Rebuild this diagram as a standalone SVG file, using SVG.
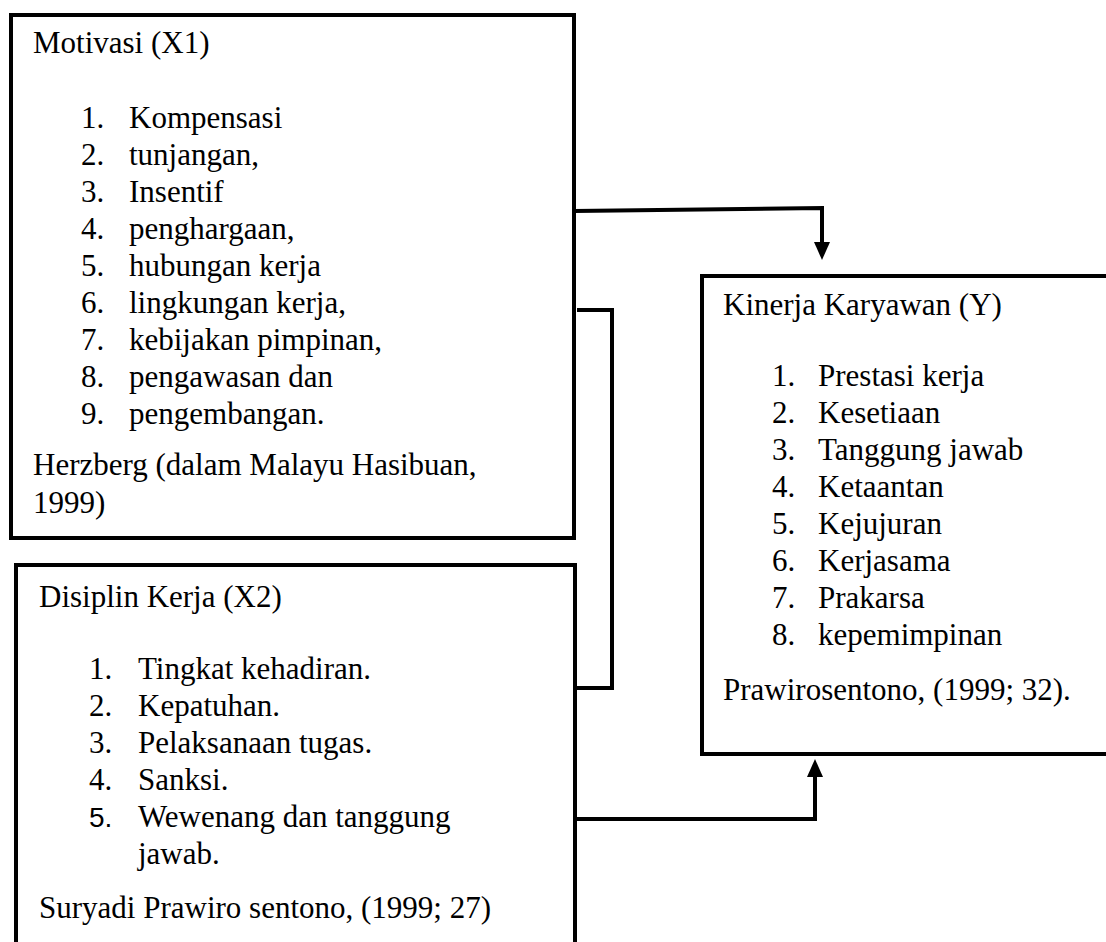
<svg xmlns="http://www.w3.org/2000/svg" width="1106" height="942" viewBox="0 0 1106 942">
<defs>
<style>
.box{fill:#fff;stroke:#000;stroke-width:4}
.t{font-family:"Liberation Serif","Times New Roman",serif;font-size:31px;fill:#000}
.s{font-family:"Liberation Sans",Arial,sans-serif;font-size:28px;fill:#000}
.c{fill:none;stroke:#000;stroke-width:4}
</style>
<marker id="ah" viewBox="0 0 18 16" markerWidth="18" markerHeight="16" refX="10" refY="8" orient="auto" markerUnits="userSpaceOnUse">
<path d="M0,0 L18,8 L0,16 Z" fill="#000"/>
</marker>
</defs>
<rect width="1106" height="942" fill="#fff"/>
<g id="motivasi">
<rect class="box" x="11" y="15" width="563" height="523"/>
<text class="t" x="33" y="53">Motivasi (X1)</text>
<text class="t" x="81" y="128">1.</text><text class="t" x="129" y="128">Kompensasi</text>
<text class="t" x="81" y="165">2.</text><text class="t" x="129" y="165">tunjangan,</text>
<text class="t" x="81" y="202">3.</text><text class="t" x="129" y="202">Insentif</text>
<text class="t" x="81" y="239">4.</text><text class="t" x="129" y="239">penghargaan,</text>
<text class="t" x="81" y="276">5.</text><text class="t" x="129" y="276">hubungan kerja</text>
<text class="t" x="81" y="313">6.</text><text class="t" x="129" y="313">lingkungan kerja,</text>
<text class="t" x="81" y="350">7.</text><text class="t" x="129" y="350">kebijakan pimpinan,</text>
<text class="t" x="81" y="387">8.</text><text class="t" x="129" y="387">pengawasan dan</text>
<text class="t" x="81" y="424">9.</text><text class="t" x="129" y="424">pengembangan.</text>
<text class="t" x="33" y="475">Herzberg (dalam Malayu Hasibuan,</text>
<text class="t" x="33" y="513">1999)</text>
</g>
<g id="disiplin">
<rect class="box" x="16" y="565" width="559" height="400"/>
<text class="t" x="39" y="607">Disiplin Kerja (X2)</text>
<text class="t" x="89" y="679">1.</text><text class="t" x="138" y="679">Tingkat kehadiran.</text>
<text class="t" x="89" y="716">2.</text><text class="t" x="138" y="716">Kepatuhan.</text>
<text class="t" x="89" y="753">3.</text><text class="t" x="138" y="753">Pelaksanaan tugas.</text>
<text class="t" x="89" y="790">4.</text><text class="t" x="138" y="790">Sanksi.</text>
<text class="s" x="89" y="827">5.</text><text class="t" x="138" y="827">Wewenang dan tanggung</text>
<text class="t" x="138" y="864">jawab.</text>
<text class="t" x="39" y="918">Suryadi Prawiro sentono, (1999; 27)</text>
</g>
<g id="kinerja">
<rect class="box" x="702" y="276" width="420" height="478"/>
<text class="t" x="723" y="315">Kinerja Karyawan (Y)</text>
<text class="t" x="772" y="386">1.</text><text class="t" x="818" y="386">Prestasi kerja</text>
<text class="t" x="772" y="423">2.</text><text class="t" x="818" y="423">Kesetiaan</text>
<text class="t" x="772" y="460">3.</text><text class="t" x="818" y="460">Tanggung jawab</text>
<text class="t" x="772" y="497">4.</text><text class="t" x="818" y="497">Ketaantan</text>
<text class="t" x="772" y="534">5.</text><text class="t" x="818" y="534">Kejujuran</text>
<text class="t" x="772" y="571">6.</text><text class="t" x="818" y="571">Kerjasama</text>
<text class="t" x="772" y="608">7.</text><text class="t" x="818" y="608">Prakarsa</text>
<text class="t" x="772" y="645">8.</text><text class="t" x="818" y="645">kepemimpinan</text>
<text class="t" x="723" y="700">Prawirosentono, (1999; 32).</text>
</g>
<g id="connectors">
<polyline class="c" points="574,211 822,208 822,252" marker-end="url(#ah)"/>
<polyline class="c" points="577,310 612,310 612,688 577,688"/>
<polyline class="c" points="575,819 815,819 815,767" marker-end="url(#ah)"/>
</g>
</svg>
